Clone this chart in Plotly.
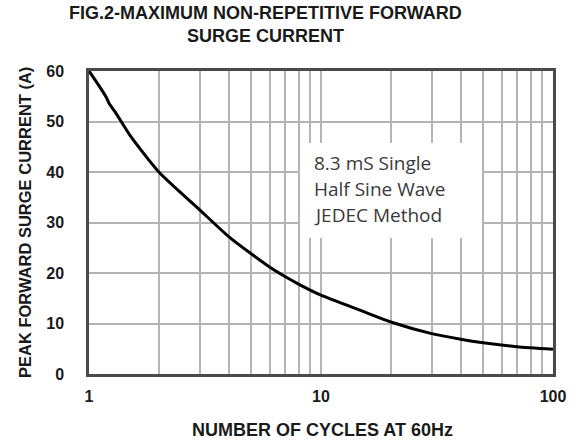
import plotly.graph_objects as go

# Data
cycles = [1, 1.1, 1.19, 1.22, 1.3, 1.5, 2, 3, 4, 5, 6, 7, 8, 10, 15, 20, 30, 40, 50, 70, 100]
surge_current = [60, 57.2, 54.7, 53.6, 51.8, 47.3, 40, 32.5, 27.2, 23.8, 21.2, 19.3, 17.8, 15.6, 12.5, 10.3, 8.0, 6.9, 6.2, 5.4, 4.9]

x_grid_vals = [1, 2, 3, 4, 5, 6, 7, 8, 9, 10, 20, 30, 40, 50, 60, 70, 80, 90, 100]
x_tick_text = ["1"] + [""] * 8 + ["10"] + [""] * 8 + ["100"]
y_tick_vals = [0, 10, 20, 30, 40, 50, 60]

title_lines = ["FIG.2-MAXIMUM NON-REPETITIVE FORWARD", "SURGE CURRENT"]
note_lines = ["8.3 mS Single", "Half Sine Wave", "JEDEC Method"]
x_title = "NUMBER OF CYCLES AT 60Hz"
y_title = "PEAK FORWARD SURGE CURRENT (A)"

FONT = "Liberation Sans, Arial, sans-serif"

fig = go.Figure()
fig.add_trace(go.Scatter(
    x=cycles, y=surge_current, mode="lines",
    line=dict(color="#000000", width=3, shape="spline", smoothing=0.6),
    showlegend=False, hoverinfo="skip",
))

W, H = 582, 443
# plot area in page pixels: x 89..553, y 71..374
L, T = 89, 71
R = W - 553
B = H - 374
pw, ph = W - L - R, H - T - B

def px_to_paper_x(px):
    return (px - L) / pw

def px_to_paper_y(py):
    return (H - B - py) / ph

annotations = []
for txt, yc in zip(title_lines, [13, 36]):
    annotations.append(dict(
        text=txt, x=px_to_paper_x(265), y=px_to_paper_y(yc), xref="paper", yref="paper",
        xanchor="center", yanchor="middle", showarrow=False,
        font=dict(family=FONT, size=18, color="#1a1a1a", weight="bold"),
    ))
annotations.append(dict(
    text=x_title, x=px_to_paper_x(322), y=px_to_paper_y(430), xref="paper", yref="paper",
    xanchor="center", yanchor="middle", showarrow=False,
    font=dict(family=FONT, size=18, color="#1a1a1a", weight="bold"),
))
annotations.append(dict(
    text=y_title, x=px_to_paper_x(25), y=px_to_paper_y(223), xref="paper", yref="paper",
    xanchor="center", yanchor="middle", showarrow=False, textangle=-90,
    font=dict(family=FONT, size=16.5, color="#1a1a1a", weight="bold"),
))
for txt, yc in zip(note_lines, [163, 189, 215]):
    annotations.append(dict(
        text=txt, x=px_to_paper_x(312), y=px_to_paper_y(yc), xref="paper", yref="paper",
        xanchor="left", yanchor="middle", showarrow=False,
        font=dict(family="Open Sans, Lato, sans-serif", size=19, color="#3a3a3a"),
    ))

shapes = [dict(
    type="rect", xref="paper", yref="paper",
    x0=px_to_paper_x(300), x1=px_to_paper_x(482),
    y0=px_to_paper_y(238), y1=px_to_paper_y(143),
    fillcolor="white", line=dict(width=0), layer="above",
)]

fig.update_layout(
    width=W, height=H,
    margin=dict(l=L, r=R, t=T, b=B, pad=0),
    paper_bgcolor="white", plot_bgcolor="white",
    annotations=annotations, shapes=shapes,
    xaxis=dict(
        type="log", range=[0, 2],
        tickmode="array", tickvals=x_grid_vals, ticktext=x_tick_text,
        showgrid=True, gridcolor="#b4b4b4", gridwidth=1.5,
        showline=True, linecolor="#4a4a4a", linewidth=2.5, mirror=True,
        ticks="", ticklabelstandoff=6,
        tickfont=dict(family=FONT, size=16, color="#1a1a1a", weight="bold"),
        zeroline=False,
    ),
    yaxis=dict(
        range=[0, 60], tickmode="array", tickvals=y_tick_vals,
        showgrid=True, gridcolor="#b4b4b4", gridwidth=1.5,
        showline=True, linecolor="#4a4a4a", linewidth=2.5, mirror=True,
        ticks="", ticklabelstandoff=19,
        tickfont=dict(family=FONT, size=16, color="#1a1a1a", weight="bold"),
        zeroline=False,
    ),
)

fig.write_html(
    "out.html",
    config={"displayModeBar": False},
    post_script="document.body.style.margin='0';document.body.style.overflow='hidden';",
)
